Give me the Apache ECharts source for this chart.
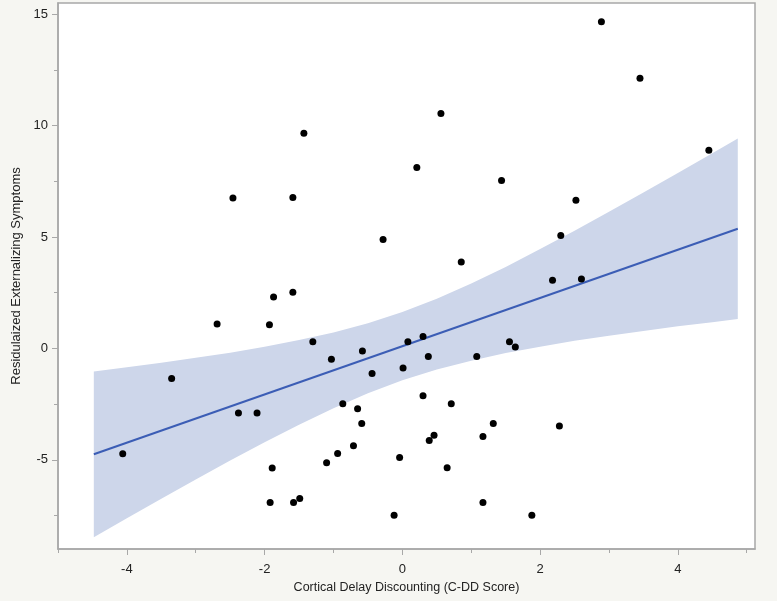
<!DOCTYPE html>
<html>
<head>
<meta charset="utf-8">
<script src="https://cdn.jsdelivr.net/npm/echarts@6/dist/echarts.min.js"></script>
<style>
html,body{margin:0;padding:0;background:#f6f6f2;}
#c{width:777px;height:601px;}
</style>
</head>
<body>
<div id="c"></div>
<script>
// Scatter points (C-DD score, residualized externalizing symptoms)
const pointsX = [-4.06,-3.35,-2.69,-2.46,-2.38,-2.11,-1.93,-1.92,-1.89,-1.87,-1.59,-1.59,-1.58,-1.49,-1.43,-1.30,-1.10,-1.03,-0.94,-0.865,-0.71,-0.65,-0.59,-0.58,-0.44,-0.28,-0.12,-0.04,0.01,0.08,0.21,0.30,0.30,0.377,0.39,0.46,0.56,0.65,0.71,0.855,1.08,1.17,1.17,1.32,1.44,1.555,1.64,1.88,2.18,2.28,2.30,2.52,2.60,2.89,3.45,4.45];
const pointsY = [-4.73,-1.35,1.10,6.75,-2.90,-2.90,1.06,-6.91,-5.37,2.31,6.77,2.52,-6.91,-6.73,9.65,0.30,-5.13,-0.48,-4.71,-2.48,-4.37,-2.71,-3.37,-0.12,-1.12,4.89,-7.49,-4.89,-0.88,0.30,8.12,0.54,-2.12,-0.36,-4.13,-3.90,10.54,-5.35,-2.48,3.88,-0.36,-3.95,-6.91,-3.37,7.53,0.30,0.06,-7.49,3.06,-3.48,5.07,6.65,3.12,14.66,12.12,8.89];
// Fit line end points
const fitX = [-4.48, 4.87];
const fitY = [-4.75, 5.37];
// Confidence band edges
const bandX = [-4.48,-4,-3.5,-3,-2.5,-2,-1.5,-1,-0.5,0,0.5,1,1.5,2,2.5,3,3.5,4,4.5,4.87];
const bandUpper = [-1.03,-0.84,-0.64,-0.42,-0.19,0.07,0.38,0.72,1.13,1.63,2.23,2.91,3.65,4.46,5.28,6.13,7.00,7.87,8.76,9.42];
const bandLower = [-8.47,-7.62,-6.74,-5.88,-5.03,-4.21,-3.42,-2.68,-2.01,-1.43,-0.95,-0.55,-0.21,0.08,0.34,0.57,0.78,0.99,1.18,1.32];
// Ticks
const xTicks = [-4,-2,0,2,4];
const xMinorTicks = [-5,-3,-1,1,3,5];
const yTicks = [-5,0,5,10,15];
const yMinorTicks = [-7.5,-2.5,2.5,7.5,12.5];

const scatterData = pointsX.map((x,i)=>[x,pointsY[i]]);
const fitData = fitX.map((x,i)=>[x,fitY[i]]);

const FONT = 'Liberation Sans, Arial, sans-serif';
const axisColor = '#a8a8a8';

const chart = echarts.init(document.getElementById('c'));
chart.setOption({
  backgroundColor: '#f6f6f2',
  animation: false,
  grid: {left: 58, right: 22, top: 3, bottom: 52, show: true, backgroundColor: '#ffffff', borderColor: axisColor, borderWidth: 1.5, outerBoundsMode: 'none', containLabel: false},
  xAxis: [{
    type: 'value', min: -5, max: 5.12,
    name: 'Cortical Delay Discounting (C-DD Score)', nameLocation: 'middle', nameGap: 25,
    nameTextStyle: {fontFamily: FONT, fontSize: 12.5, color: '#222'},
    axisLine: {show: true, onZero: false, lineStyle: {color: axisColor, width: 1.5}},
    axisTick: {show: true, customValues: xTicks, length: 6, lineStyle: {color: axisColor}},
    axisLabel: {customValues: xTicks, margin: 14, fontFamily: FONT, fontSize: 13, color: '#222'},
    splitLine: {show: false}
  },{
    type: 'value', min: -5, max: 5.12, position: 'bottom',
    axisLine: {show: false, onZero: false},
    axisTick: {show: true, customValues: xMinorTicks, length: 4, lineStyle: {color: axisColor}},
    axisLabel: {show: false}, splitLine: {show: false}
  }],
  yAxis: [{
    type: 'value', min: -9, max: 15.5,
    name: 'Residulaized Externalizing Symptoms', nameLocation: 'middle', nameGap: 33,
    nameTextStyle: {fontFamily: FONT, fontSize: 13, color: '#222'},
    axisLine: {show: true, onZero: false, lineStyle: {color: axisColor, width: 1.5}},
    axisTick: {show: true, customValues: yTicks, length: 6, lineStyle: {color: axisColor}},
    axisLabel: {customValues: yTicks, margin: 10, fontFamily: FONT, fontSize: 13, color: '#222'},
    splitLine: {show: false}
  },{
    type: 'value', min: -9, max: 15.5, position: 'left',
    axisLine: {show: false, onZero: false},
    axisTick: {show: true, customValues: yMinorTicks, length: 4, lineStyle: {color: axisColor}},
    axisLabel: {show: false}, splitLine: {show: false}
  }],
  series: [
    {
      type: 'custom', xAxisIndex: 0, yAxisIndex: 0, data: [0], silent: true, z: 1,
      renderItem: function(params, api){
        const pts = [];
        for (let i=0;i<bandX.length;i++) pts.push(api.coord([bandX[i], bandUpper[i]]));
        for (let i=bandX.length-1;i>=0;i--) pts.push(api.coord([bandX[i], bandLower[i]]));
        return {type: 'polygon', shape: {points: pts}, style: {fill: '#cdd6ea', stroke: null}};
      }
    },
    {
      type: 'line', data: fitData, xAxisIndex: 0, yAxisIndex: 0, symbol: 'none', z: 2,
      lineStyle: {color: '#3b5db5', width: 2}
    },
    {
      type: 'scatter', data: scatterData, xAxisIndex: 0, yAxisIndex: 0, symbolSize: 7, z: 3,
      itemStyle: {color: '#000000', opacity: 1}
    }
  ]
});
</script>
</body>
</html>
